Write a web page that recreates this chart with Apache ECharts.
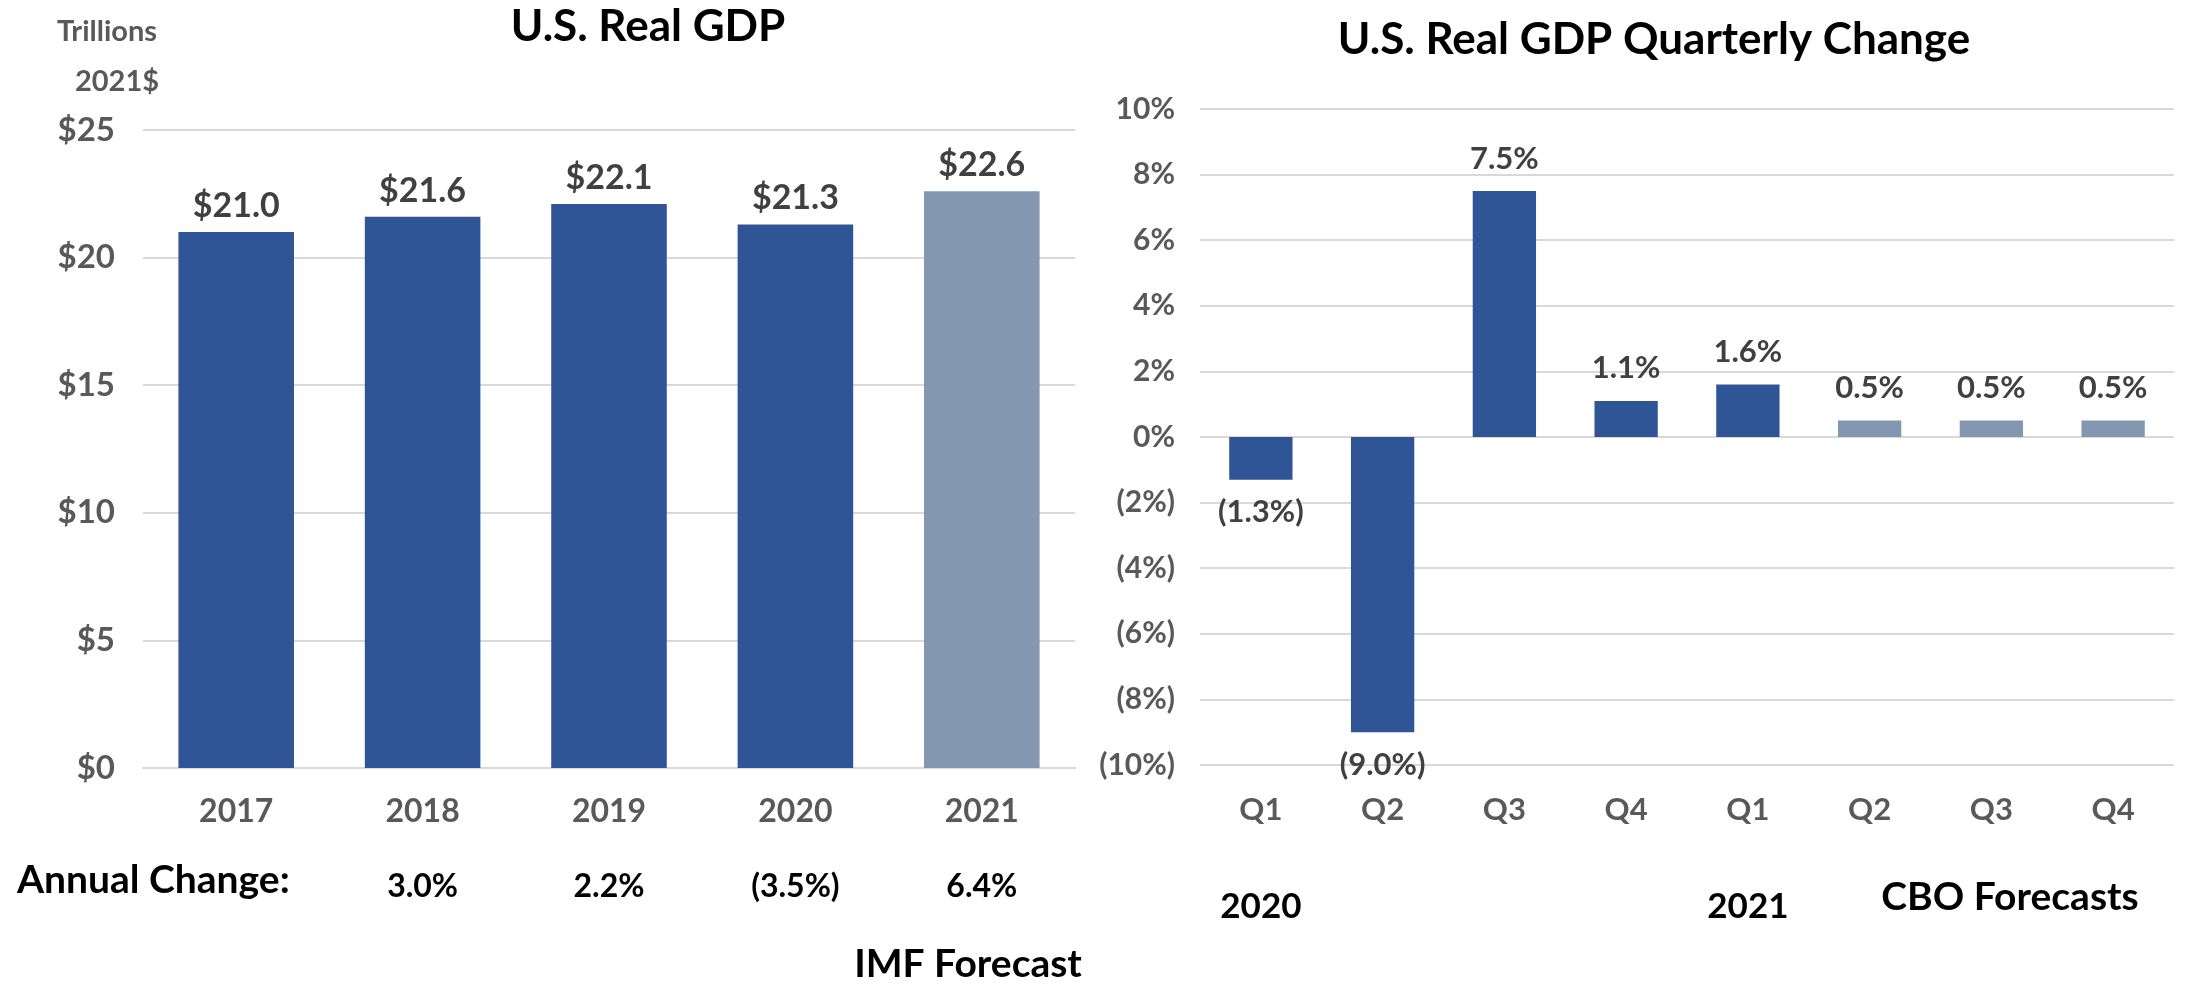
<!DOCTYPE html>
<html><head><meta charset="utf-8">
<script src="https://cdn.jsdelivr.net/npm/echarts@6/dist/echarts.min.js"></script>
<style>html,body{margin:0;padding:0;background:#fff}#c{width:2198px;height:984px}</style>
</head><body><div id="c"></div>
<script>
const years = ['2017','2018','2019','2020','2021'];
const gdp = [21.0, 21.6, 22.1, 21.3, 22.6];
const gdpForecast = [false, false, false, false, true];
const annualChange = ['', '3.0%', '2.2%', '(3.5%)', '6.4%'];
const quarters = ['Q1','Q2','Q3','Q4','Q1','Q2','Q3','Q4'];
const quarterYears = ['2020','','','','2021','','',''];
const qChange = [-1.3, -9.0, 7.5, 1.1, 1.6, 0.5, 0.5, 0.5];
const qForecast = [false, false, false, false, false, true, true, true];

const DARK = '#2F5597', LIGHT = '#8497B0', GREY = '#595959', LAB = '#404040';
const F = 'Lato, "Open Sans", sans-serif';
const pct = v => v < 0 ? '(' + Math.abs(v).toFixed(0) + '%)' : v.toFixed(0) + '%';
const pct1 = v => v < 0 ? '(' + Math.abs(v).toFixed(1) + '%)' : v.toFixed(1) + '%';

const chart = echarts.init(document.getElementById('c'));
chart.setOption({
  animation: false,
  textStyle: {fontFamily: F},
  grid: [
    {left: 143, right: 1123, top: 130, bottom: 216},
    {left: 1200, right: 24, top: 109, bottom: 219}
  ],
  xAxis: [
    {gridIndex: 0, type: 'category', data: years, axisTick: {show: false},
     axisLine: {lineStyle: {color: '#D9D9D9', width: 2}},
     axisLabel: {color: GREY, fontWeight: 'bold', fontSize: 32, margin: 28, fontFamily: F}},
    {gridIndex: 0, type: 'category', data: annualChange, position: 'bottom', axisTick: {show: false},
     axisLine: {show: false},
     axisLabel: {color: '#000', fontWeight: 'bold', fontSize: 32, margin: 103, fontFamily: F}},
    {gridIndex: 1, type: 'category', data: quarters, axisTick: {show: false},
     axisLine: {show: false},
     axisLabel: {color: GREY, fontWeight: 'bold', fontSize: 31, margin: 29, fontFamily: F}},
    {gridIndex: 1, type: 'category', data: quarterYears, position: 'bottom', axisTick: {show: false},
     axisLine: {show: false},
     axisLabel: {color: '#000', fontWeight: 'bold', fontSize: 35, margin: 124, fontFamily: F}}
  ],
  yAxis: [
    {gridIndex: 0, type: 'value', min: 0, max: 25, interval: 5,
     axisLine: {show: false}, axisTick: {show: false},
     splitLine: {lineStyle: {color: '#D9D9D9', width: 2}},
     axisLabel: {color: GREY, fontWeight: 'bold', fontSize: 33, margin: 28, formatter: v => '$' + v}},
    {gridIndex: 1, type: 'value', min: -10, max: 10, interval: 2,
     axisLine: {show: false}, axisTick: {show: false},
     splitLine: {lineStyle: {color: '#D9D9D9', width: 2}},
     axisLabel: {color: GREY, fontWeight: 'bold', fontSize: 30, margin: 25, formatter: pct}}
  ],
  series: [
    {type: 'bar', xAxisIndex: 0, yAxisIndex: 0, barCategoryGap: '38%',
     data: gdp.map((v, i) => ({value: v, itemStyle: {color: gdpForecast[i] ? LIGHT : DARK}})),
     label: {show: true, position: 'top', distance: 9, color: LAB, fontWeight: 'bold', fontSize: 34,
             formatter: p => '$' + p.value.toFixed(1)}},
    {type: 'bar', xAxisIndex: 2, yAxisIndex: 1, barCategoryGap: '48%',
     data: qChange.map((v, i) => ({value: v, itemStyle: {color: qForecast[i] ? LIGHT : DARK},
       label: {position: v < 0 ? 'bottom' : 'top'}})),
     label: {show: true, distance: 17, color: LAB, fontWeight: 'bold', fontSize: 31,
             formatter: p => pct1(p.value)}}
  ],
  graphic: [
    {type: 'text', x: 648, y: 27, style: {text: 'U.S. Real GDP', fill: '#000', font: 'bold 44px ' + F, textAlign: 'center', textVerticalAlign: 'middle'}},
    {type: 'text', x: 1654, y: 40, style: {text: 'U.S. Real GDP Quarterly Change', fill: '#000', font: 'bold 44px ' + F, textAlign: 'center', textVerticalAlign: 'middle'}},
    {type: 'text', x: 107, y: 32, style: {text: 'Trillions', fill: GREY, font: 'bold 29px ' + F, textAlign: 'center', textVerticalAlign: 'middle'}},
    {type: 'text', x: 117, y: 82, style: {text: '2021$', fill: GREY, font: 'bold 29px ' + F, textAlign: 'center', textVerticalAlign: 'middle'}},
    {type: 'text', x: 17, y: 880, style: {text: 'Annual Change:', fill: '#000', font: 'bold 39px ' + F, textAlign: 'left', textVerticalAlign: 'middle'}},
    {type: 'text', x: 968, y: 964, style: {text: 'IMF Forecast', fill: '#000', font: 'bold 39px ' + F, textAlign: 'center', textVerticalAlign: 'middle'}},
    {type: 'text', x: 2010, y: 897, style: {text: 'CBO Forecasts', fill: '#000', font: 'bold 39px ' + F, textAlign: 'center', textVerticalAlign: 'middle'}}
  ]
});
</script></body></html>
